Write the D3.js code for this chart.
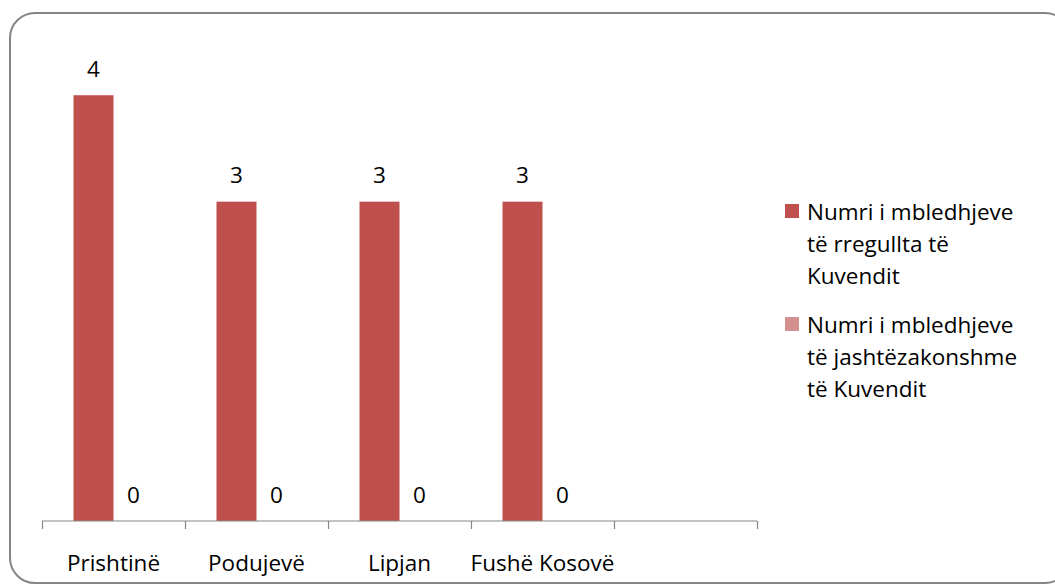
<!DOCTYPE html>
<html>
<head>
<meta charset="utf-8">
<script src="https://cdn.jsdelivr.net/npm/d3@7"></script>
<style>
html,body{margin:0;padding:0;background:#fff;}
svg{display:block;}
text{font-family:"Open Sans",Lato,sans-serif;fill:#000;}
</style>
</head>
<body>
<svg id="chart" width="1055" height="584"></svg>
<script>
const categories = ["Prishtinë", "Podujevë", "Lipjan", "Fushë Kosovë", ""];
const seriesNames = [
  ["Numri i mbledhjeve", "të rregullta të", "Kuvendit"],
  ["Numri i mbledhjeve", "të jashtëzakonshme", "të Kuvendit"]
];
const regular = [4, 3, 3, 3, null];
const extraordinary = [0, 0, 0, 0, null];
const colors = ["#C0504D", "#D4908F"];

const svg = d3.select("#chart");
const fontSize = 22.5;

// frame
svg.append("rect")
  .attr("x", 10).attr("y", 13).attr("width", 1060).attr("height", 570)
  .attr("rx", 25).attr("ry", 25)
  .attr("fill", "#fff").attr("stroke", "#868686").attr("stroke-width", 2);

const x0 = d3.scaleBand().domain(d3.range(categories.length)).range([42, 757]).paddingInner(0).paddingOuter(0);
const innerPad = 31.5 / 143;
const x1 = d3.scaleBand().domain([0, 1]).range([x0.bandwidth() * innerPad, x0.bandwidth() * (1 - innerPad)]);
const y = d3.scaleLinear().domain([0, 4.5]).range([521, 42]);

const series = [regular, extraordinary];
series.forEach((vals, si) => {
  const g = svg.append("g");
  const data = vals.map((v, i) => ({ v, i })).filter(d => d.v !== null);
  g.selectAll("rect").data(data).enter().append("rect")
    .attr("x", d => x0(d.i) + x1(si))
    .attr("y", d => y(d.v))
    .attr("width", x1.bandwidth())
    .attr("height", d => y(0) - y(d.v))
    .attr("fill", colors[si]);
  g.selectAll("text").data(data).enter().append("text")
    .attr("x", d => x0(d.i) + x1(si) + x1.bandwidth() / 2)
    .attr("y", d => y(d.v) - 18.5)
    .attr("text-anchor", "middle")
    .attr("font-size", fontSize)
    .text(d => d.v);
});

// x axis
const axis = d3.axisBottom(d3.scaleLinear().domain([0, categories.length]).range([42, 757]))
  .tickValues(d3.range(categories.length + 1))
  .tickSize(8).tickFormat("");
const ax = svg.append("g").attr("transform", `translate(0,${y(0)})`).call(axis);
ax.select(".domain").attr("stroke", "#868686").attr("stroke-width", 1.2).attr("d", "M42,0H757");
ax.selectAll(".tick line").attr("stroke", "#868686").attr("stroke-width", 1.2);

svg.append("g").selectAll("text").data(categories).enter().append("text")
  .attr("x", (d, i) => x0(i) + x0.bandwidth() / 2)
  .attr("y", 571)
  .attr("text-anchor", "middle")
  .attr("font-size", fontSize)
  .text(d => d);

// legend
const legTops = [204, 317];
seriesNames.forEach((lines, si) => {
  const g = svg.append("g");
  g.append("rect").attr("x", 785).attr("y", legTops[si]).attr("width", 14).attr("height", 14)
    .attr("fill", colors[si]);
  lines.forEach((ln, li) => {
    g.append("text").attr("x", 807).attr("y", legTops[si] + 16 + li * 32)
      .attr("font-size", fontSize).text(ln);
  });
});
</script>
</body>
</html>
